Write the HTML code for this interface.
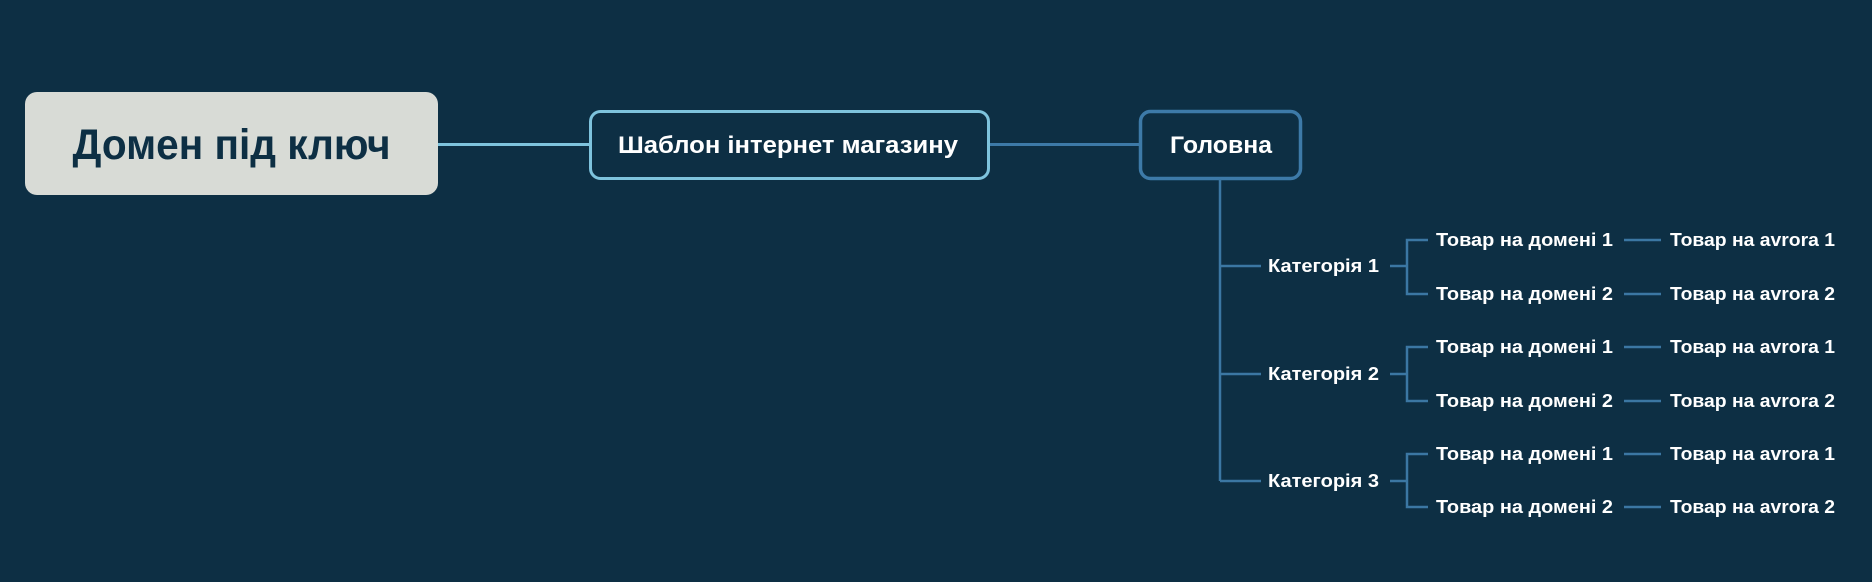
<!DOCTYPE html>
<html><head><meta charset="utf-8"><style>
html,body{margin:0;padding:0;background:#0d2f44;}
svg{display:block;}
text{font-family:"Liberation Sans",sans-serif;font-weight:bold;}
</style></head><body>
<svg width="1872" height="582" viewBox="0 0 1872 582" xmlns="http://www.w3.org/2000/svg">
<rect width="1872" height="582" fill="#0d2f44"/>
<g stroke-width="3" fill="none">
<line x1="438" y1="144.5" x2="590" y2="144.5" stroke="#7ec3dd"/>
<line x1="989" y1="144.5" x2="1140" y2="144.5" stroke="#3d7aa8"/>
</g>
<rect x="25" y="92" width="413" height="103" rx="12" fill="#d8dbd6"/>
<text x="231.5" y="159" font-size="43" fill="#0d2f44" text-anchor="middle" textLength="318" lengthAdjust="spacingAndGlyphs">Домен під ключ</text>
<rect x="590.5" y="111.5" width="398" height="67" rx="10" fill="#0d2f44" stroke="#7ec3dd" stroke-width="3"/>
<text x="788" y="153" font-size="24" fill="#fff" text-anchor="middle" textLength="340" lengthAdjust="spacingAndGlyphs">Шаблон інтернет магазину</text>
<rect x="1140.5" y="111.5" width="160" height="67" rx="10" fill="#0d2f44" stroke="#3d7aa8" stroke-width="3.5"/>
<text x="1221" y="153" font-size="24" fill="#fff" text-anchor="middle" textLength="102" lengthAdjust="spacingAndGlyphs">Головна</text>
<g stroke="#3b77a3" stroke-width="2.5" fill="none">
<line x1="1220" y1="179" x2="1220" y2="481"/>
<line x1="1220" y1="266" x2="1261" y2="266"/>
<line x1="1220" y1="374" x2="1261" y2="374"/>
<line x1="1220" y1="481" x2="1261" y2="481"/>
<path d="M1390 266H1407M1428 240H1407V294H1428"/>
<path d="M1390 374H1407M1428 347H1407V401H1428"/>
<path d="M1390 481H1407M1428 454H1407V507H1428"/>
<path d="M1624 240H1661M1624 294H1661M1624 347H1661M1624 401H1661M1624 454H1661M1624 507H1661"/>
</g>
<g font-size="18" fill="#fff">
<text x="1268" y="272" textLength="111" lengthAdjust="spacingAndGlyphs">Категорія 1</text>
<text x="1268" y="380" textLength="111" lengthAdjust="spacingAndGlyphs">Категорія 2</text>
<text x="1268" y="487" textLength="111" lengthAdjust="spacingAndGlyphs">Категорія 3</text>
<text x="1436" y="246" textLength="177" lengthAdjust="spacingAndGlyphs">Товар на домені 1</text>
<text x="1436" y="300" textLength="177" lengthAdjust="spacingAndGlyphs">Товар на домені 2</text>
<text x="1436" y="353" textLength="177" lengthAdjust="spacingAndGlyphs">Товар на домені 1</text>
<text x="1436" y="407" textLength="177" lengthAdjust="spacingAndGlyphs">Товар на домені 2</text>
<text x="1436" y="460" textLength="177" lengthAdjust="spacingAndGlyphs">Товар на домені 1</text>
<text x="1436" y="513" textLength="177" lengthAdjust="spacingAndGlyphs">Товар на домені 2</text>
<text x="1670" y="246" textLength="165" lengthAdjust="spacingAndGlyphs">Товар на avrora 1</text>
<text x="1670" y="300" textLength="165" lengthAdjust="spacingAndGlyphs">Товар на avrora 2</text>
<text x="1670" y="353" textLength="165" lengthAdjust="spacingAndGlyphs">Товар на avrora 1</text>
<text x="1670" y="407" textLength="165" lengthAdjust="spacingAndGlyphs">Товар на avrora 2</text>
<text x="1670" y="460" textLength="165" lengthAdjust="spacingAndGlyphs">Товар на avrora 1</text>
<text x="1670" y="513" textLength="165" lengthAdjust="spacingAndGlyphs">Товар на avrora 2</text>
</g>
</svg>
</body></html>
